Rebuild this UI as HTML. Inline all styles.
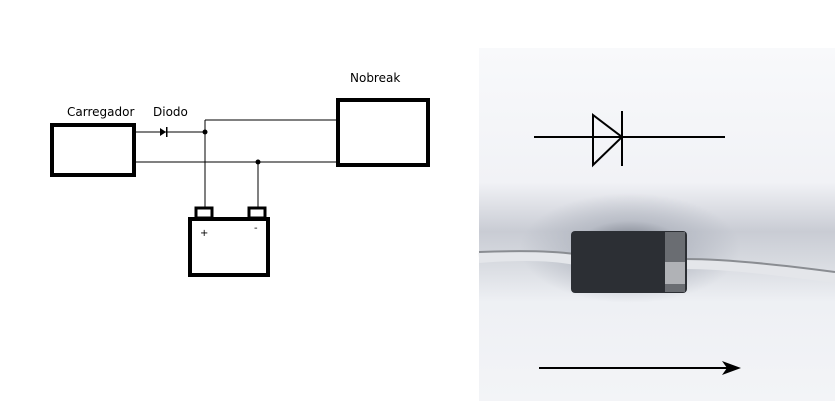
<!DOCTYPE html>
<html><head><style>
body{margin:0;width:835px;height:401px;background:#fff;overflow:hidden;position:relative;font-family:"DejaVu Sans","Liberation Sans",sans-serif}
.t{position:absolute;font-size:12px;color:#000}
</style></head><body>
<div style="position:absolute;left:479px;top:48px;width:356px;height:353px;background:radial-gradient(ellipse 110px 55px at 151px 200px,rgba(90,96,108,0.9) 0%,rgba(170,175,186,0.6) 50%,rgba(240,242,247,0) 100%),linear-gradient(#f8f9fb 0%,#f1f2f6 38%,#c9ccd4 52%,#d6d9df 60%,#eef0f4 72%,#f3f4f7 100%)"></div>
<div class="t" style="left:67px;top:105px">Carregador</div>
<div class="t" style="left:153px;top:105px">Diodo</div>
<div class="t" style="left:350px;top:71px">Nobreak</div>
<svg width="835" height="401" style="position:absolute;left:0;top:0">
<g fill="none" stroke="#000">
<rect x="52" y="125" width="82" height="50" stroke-width="4"/>
<rect x="338" y="100" width="90" height="65" stroke-width="4"/>
<rect x="190" y="219" width="78" height="56" stroke-width="4"/>
<rect x="196" y="208" width="16" height="10" stroke-width="3"/>
<rect x="249" y="208" width="16" height="10" stroke-width="3"/>
<path d="M205 120H336M136 132H205M136 162H336M205 120V207M258 162V207" stroke-width="1"/>
<path d="M534 137H725" stroke-width="2"/>
<path d="M593 115V165L622 137Z" stroke-width="2"/>
<path d="M622 111V166" stroke-width="2"/>
<path d="M539 368H730" stroke-width="2"/>
</g>
<path d="M160 128V136L166 132Z" fill="#000"/><rect x="166" y="127" width="1.5" height="10" fill="#000"/>
<circle cx="205" cy="132" r="2.5"/><circle cx="258" cy="162" r="2.5"/>
<text x="200" y="236" font-size="10" font-family="DejaVu Sans">+</text>
<text x="254" y="231" font-size="10" font-family="DejaVu Sans">-</text>
<path d="M722 361L741 368L722 375L727 368Z" fill="#000"/>
<path d="M479 258C530 254 560 257 575 260M685 264C730 264 790 272 835 278" stroke="#e4e6ea" stroke-width="10" fill="none"/>
<path d="M479 252C530 250 560 252 575 254M685 259C730 259 790 266 835 272" stroke="#8a8d92" stroke-width="2" fill="none"/>
<rect x="571" y="231" width="116" height="62" rx="4" fill="#2c2f34"/>
<rect x="665" y="232" width="20" height="60" fill="#6a6d72"/>
<rect x="665" y="262" width="20" height="22" fill="#b0b2b6"/>
</svg>
</body></html>
